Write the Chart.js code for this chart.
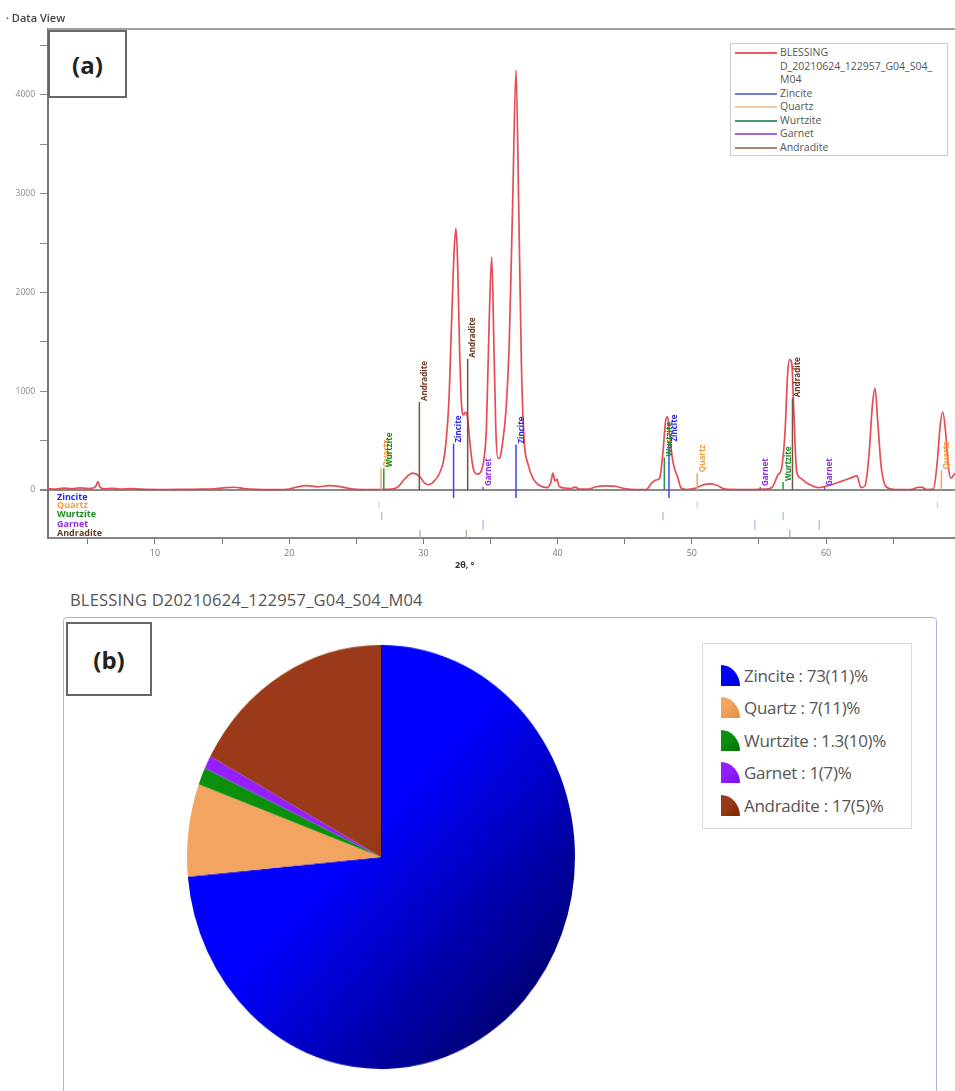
<!DOCTYPE html>
<html>
<head>
<meta charset="utf-8">
<script src="https://cdn.jsdelivr.net/npm/chart.js@4.4.1/dist/chart.umd.min.js"></script>
<style>
  body { margin: 0; background: #fff; font-family: 'Open Sans', sans-serif; }
  #page { position: relative; width: 955px; height: 1091px; overflow: hidden; }
  .abs { position: absolute; }
  #dataView { left: 6px; top: 10px; font-size: 11px; font-weight: 600; color: #444; }
  #xrd { left: 0; top: 0; }
  .tag { border: 2px solid #666; background: #fff; display: flex; align-items: center; justify-content: center;
         font-weight: bold; font-size: 24px; color: #222; box-sizing: border-box; }
  #boxA { left: 48px; top: 30px; width: 79px; height: 68px; }
  #xTitle { left: 455px; top: 558px; font-size: 9px; font-weight: bold; color: #333; }
  #legendA { left: 730px; top: 43px; width: 218px; height: 113px; border: 1px solid #ccc; background: #fff;
             box-sizing: border-box; padding-top: 2px; }
  #legendA .row { display: flex; align-items: flex-start; font-size: 10.5px; line-height: 13.5px; color: #555; white-space: pre-line; }
  #legendA .ln { width: 42px; height: 2px; margin: 6px 3px 0 4px; flex: none; }
  #pieTitle { left: 70px; top: 588px; font-size: 16.5px; color: #555; letter-spacing: 0.2px; }
  #panel { left: 63px; top: 617px; width: 874px; height: 520px; border: 1.5px solid #a3b6d4; border-radius: 4px; box-sizing: border-box; }
  #boxB { left: 66px; top: 622px; width: 86px; height: 74px; }
  #pie { left: 187px; top: 663px; transform: scaleY(1.093); transform-origin: 50% 50%; }
  #legendB { left: 702px; top: 643px; width: 210px; height: 186px; border: 1px solid #ddd; box-sizing: border-box; padding-top: 15px; }
  #legendB .row { display: flex; align-items: center; height: 32.5px; padding-left: 18px; font-size: 17px; color: #555; letter-spacing: -0.3px; }
  #legendB .ico { width: 19px; height: 21px; border-top-right-radius: 100% 100%; margin-right: 4px; flex: none; }
</style>
</head>
<body>
<div id="page">
  <canvas id="xrd" class="abs" width="955" height="575"></canvas>
  <div id="dataView" class="abs">· Data View</div>
  <div id="boxA" class="abs tag">(a)</div>
  <div id="xTitle" class="abs">2θ, °</div>
  <div id="legendA" class="abs"></div>

  <div id="pieTitle" class="abs">BLESSING D20210624_122957_G04_S04_M04</div>
  <div id="panel" class="abs"></div>
  <div id="boxB" class="abs tag">(b)</div>
  <canvas id="pie" class="abs" width="388" height="388"></canvas>
  <div id="legendB" class="abs"></div>
</div>
<script>
// measured pattern (2theta in degrees, counts)
const twoTheta = [2.0, 2.6, 3.2, 3.8, 4.4, 5.0, 5.4, 5.6, 5.75, 5.9, 6.2, 6.8, 7.4, 8.2, 9.0, 10.5, 12.0, 13.5, 14.6, 15.3,
  15.9, 16.6, 17.5, 19.0, 20.0, 20.6, 21.3, 22.1, 23.0, 23.8, 24.6, 25.5, 26.5, 27.6, 28.1, 28.6, 29.2, 29.7, 30.1, 30.4,
  30.8, 31.2, 31.6, 31.9, 32.1, 32.3, 32.43, 32.55, 32.7, 32.85, 33.0, 33.15, 33.3, 33.5, 33.75, 34.05, 34.3, 34.5, 34.7, 34.9,
  35.09, 35.25, 35.4, 35.55, 35.7, 35.9, 36.15, 36.4, 36.65, 36.9, 37.1, 37.3, 37.5, 37.8, 38.2, 38.6, 39.2, 39.5, 39.65, 39.8,
  39.95, 40.1, 40.5, 41.0, 41.3, 41.6, 42.3, 42.8, 43.5, 44.3, 45.0, 45.8, 46.6, 47.0, 47.3, 47.6, 47.85, 48.05, 48.2, 48.35,
  48.55, 48.75, 48.95, 49.2, 49.6, 50.3, 50.9, 51.4, 51.9, 52.5, 53.5, 54.5, 55.5, 56.0, 56.4, 56.7, 56.95, 57.15, 57.3, 57.45,
  57.6, 57.8, 58.1, 58.7, 59.4, 60.3, 61.2, 62.0, 62.3, 62.6, 62.9, 63.2, 63.45, 63.65, 63.85, 64.1, 64.5, 65.2, 66.3, 66.8,
  67.1, 67.5, 68.0, 68.3, 68.5, 68.7, 68.9, 69.1, 69.3, 69.61];
const counts = [15, 10, 20, 12, 22, 15, 20, 40, 85, 30, 12, 18, 10, 15, 8, 5, 6, 8, 15, 25,
  28, 15, 6, 4, 10, 30, 45, 32, 44, 35, 12, 5, 5, 8, 30, 110, 170, 140, 70, 55,
  90, 170, 380, 900, 1700, 2450, 2650, 2300, 1400, 850, 760, 790, 720, 430, 200, 160, 190, 300, 640, 1700,
  2360, 1500, 600, 320, 330, 480, 800, 1500, 2900, 4250, 2900, 1300, 520, 260, 110, 50, 25, 80, 170, 90,
  110, 40, 20, 15, 30, 10, 10, 30, 42, 38, 15, 5, 5, 70, 100, 120, 380, 700, 740, 560,
  320, 200, 130, 20, 5, 20, 55, 62, 45, 8, 5, 5, 8, 30, 150, 230, 600, 1200, 1320, 1280,
  800, 200, 120, 60, 25, 50, 90, 130, 145, 25, 40, 350, 850, 1030, 700, 250, 30, 5, 5, 25,
  30, 5, 10, 300, 650, 790, 600, 250, 120, 170];

// reference patterns, labelled sticks (position, height)
const zinciteSticks = [32.25, 36.9, 48.3];
const zinciteHeights = [470, 460, 480];
const quartzSticks = [26.85, 50.4, 68.6];
const quartzHeights = [220, 170, 200];
const wurtziteSticks = [27.05, 47.95, 56.8];
const wurtziteHeights = [220, 330, 80];
const garnetSticks = [34.45, 55.1, 59.9];
const garnetHeights = [30, 30, 30];
const andraditeSticks = [29.7, 33.3, 57.5];
const andraditeHeights = [890, 1330, 930];

// reference patterns, small ticks in the rows under the pattern
const quartzRow = [26.7, 50.4, 68.3];
const wurtziteRow = [26.9, 47.85, 56.8];
const garnetRow = [34.45, 54.7, 59.5];
const andraditeRow = [29.75, 33.2, 57.3];

const xTicks = [5, 10, 15, 20, 25, 30, 35, 40, 45, 50, 55, 60, 65];
const yTicks = [0, 500, 1000, 1500, 2000, 2500, 3000, 3500, 4000, 4500];

// quantification
const phaseNames = ['Zincite', 'Quartz', 'Wurtzite', 'Garnet', 'Andradite'];
const phaseShare = [73, 7, 1.3, 1, 17];
const phaseLabel = ['73(11)', '7(11)', '1.3(10)', '1(7)', '17(5)'];
const scanName = 'BLESSING\nD_20210624_122957_G04_S04_\nM04';

// styles
const stickColor = ['#3f46f5', '#f0a858', '#2a9a3a', '#9a3cf0', '#7a5040'];
const textColor = ['#2a2ae8', '#f0a040', '#1c8c1c', '#8a2ee8', '#6a3a20'];
const rowColor = ['#a8aee8', '#e8cfa8', '#9fc8a8', '#c6a8e8', '#b8a090'];
const legendLine = ['#6f7ed8', '#f2c8a0', '#4a9a6a', '#a264e8', '#b08472'];
const pieLight = ['#0000ff', '#f3a460', '#0c900c', '#9420ff', '#9a3a18'];
const pieDark = ['#000048', '#dc8234', '#005600', '#6a00d0', '#661c00'];
const iconDark = ['#0000c8', '#e48c40', '#007000', '#7a08e8', '#7a2600'];
const rowSpan = [[-80, 0], [-182, -120], [-304, -223], [-405, -304], [-486, -405]];
const rowText = [-71, -152, -243, -344, -436];

function sticks(pos, tops, base) {
  return pos.flatMap((x, i) => [{x, y: base}, {x, y: tops[i]}, {x, y: null}]);
}
function rowTicks(pos, span) {
  return pos.flatMap(x => [{x, y: span[0]}, {x, y: span[1]}, {x, y: null}]);
}

const labelled = [
  [zinciteSticks, zinciteHeights, -80],
  [quartzSticks, quartzHeights, 0],
  [wurtziteSticks, wurtziteHeights, 0],
  [garnetSticks, garnetHeights, 0],
  [andraditeSticks, andraditeHeights, 0]
];
const rows = [null, quartzRow, wurtziteRow, garnetRow, andraditeRow];

const datasets = [];
labelled.forEach((g, i) => datasets.push({
  data: sticks(g[0], g[1], g[2]), showLine: true, pointRadius: 0,
  borderColor: stickColor[i], borderWidth: 1.5
}));
rows.forEach((r, i) => { if (r) datasets.push({
  data: rowTicks(r, rowSpan[i]), showLine: true, pointRadius: 0,
  borderColor: rowColor[i], borderWidth: 1.2
}); });
datasets.push({
  data: twoTheta.map((x, i) => ({x, y: counts[i]})),
  showLine: true, pointRadius: 0, borderColor: 'rgba(226,62,72,0.92)', borderWidth: 1.7,
  cubicInterpolationMode: 'monotone'
});

const decorations = {
  id: 'decorations',
  afterDatasetsDraw(chart) {
    const {ctx, chartArea: a, scales: {x, y}} = chart;
    ctx.save();
    ctx.font = 'bold 8px "Open Sans"';
    ctx.textBaseline = 'top';
    labelled.forEach((g, i) => g[0].forEach((p, k) => {
      ctx.save();
      ctx.translate(x.getPixelForValue(p) + 1.5, y.getPixelForValue(g[1][k]) - 1);
      ctx.rotate(-Math.PI / 2);
      ctx.fillStyle = textColor[i];
      ctx.fillText(phaseNames[i], 0, 0);
      ctx.restore();
    }));
    ctx.font = 'bold 9px "Open Sans"';
    ctx.textBaseline = 'middle';
    phaseNames.forEach((n, i) => {
      ctx.fillStyle = textColor[i];
      ctx.fillText(n, a.left + 9, y.getPixelForValue(rowText[i]));
    });
    ctx.strokeStyle = '#a0a0a0';
    ctx.lineWidth = 2;
    ctx.beginPath();
    ctx.moveTo(a.left, a.top);
    ctx.lineTo(a.right, a.top);
    ctx.stroke();
    ctx.restore();
  }
};

new Chart(document.getElementById('xrd'), {
  type: 'scatter',
  data: {datasets},
  options: {
    responsive: false,
    animation: false,
    layout: {padding: {top: 29, left: 0, right: 0, bottom: 0}},
    plugins: {legend: {display: false}, tooltip: {enabled: false}},
    scales: {
      x: {
        type: 'linear', min: 2.03, max: 69.61,
        afterBuildTicks: s => { s.ticks = xTicks.map(v => ({value: v})); },
        afterFit: s => { s.height = 37; },
        ticks: {autoSkip: false, maxRotation: 0, padding: 4, color: '#777', font: {size: 9, family: 'Open Sans'},
                callback: v => v % 10 === 0 ? v : ''},
        grid: {drawOnChartArea: false, tickLength: 6, tickColor: '#777'},
        border: {color: '#858585', width: 2}
      },
      y: {
        min: -486, max: 4668,
        afterBuildTicks: s => { s.ticks = yTicks.map(v => ({value: v})); },
        afterFit: s => { s.width = 48; },
        ticks: {autoSkip: false, padding: 5, color: '#888', font: {size: 8.5, family: 'Open Sans'},
                callback: v => v % 1000 === 0 ? v : ''},
        grid: {
          tickLength: 8, tickColor: '#888',
          color: c => c.tick && c.tick.value === 0 ? '#8a8a8a' : 'rgba(0,0,0,0)',
          lineWidth: c => c.tick && c.tick.value === 0 ? 2 : 1
        },
        border: {color: '#777', width: 2}
      }
    }
  },
  plugins: [decorations]
});

// legend of panel (a)
const legA = document.getElementById('legendA');
[[scanName, 'rgba(226,62,72,0.85)']].concat(phaseNames.map((n, i) => [n, legendLine[i]])).forEach(([n, c]) => {
  const r = document.createElement('div');
  r.className = 'row';
  r.innerHTML = '<span class="ln" style="background:' + c + '"></span><span>' + n + '</span>';
  legA.appendChild(r);
});

// pie of panel (b)
function sliceFill(c) {
  const chart = c.chart, a = chart.chartArea;
  const i = c.dataIndex;
  if (!a) return pieLight[i];
  const g = chart.ctx.createLinearGradient(a.left, a.top, a.right, a.bottom);
  g.addColorStop(0, pieLight[i]);
  g.addColorStop(0.45, pieLight[i]);
  g.addColorStop(1, pieDark[i]);
  return g;
}
new Chart(document.getElementById('pie'), {
  type: 'pie',
  data: {labels: phaseNames, datasets: [{data: phaseShare, backgroundColor: sliceFill, borderWidth: 0}]},
  options: {
    responsive: false, animation: false,
    layout: {padding: 0},
    plugins: {legend: {display: false}, tooltip: {enabled: false}}
  }
});

const legB = document.getElementById('legendB');
phaseNames.forEach((n, i) => {
  const r = document.createElement('div');
  r.className = 'row';
  r.innerHTML = '<span class="ico" style="background:linear-gradient(135deg,' + pieLight[i] + ' 40%,' + iconDark[i] + ')"></span>' +
    '<span>' + n + ' : ' + phaseLabel[i] + '%</span>';
  legB.appendChild(r);
});
</script>
</body>
</html>
